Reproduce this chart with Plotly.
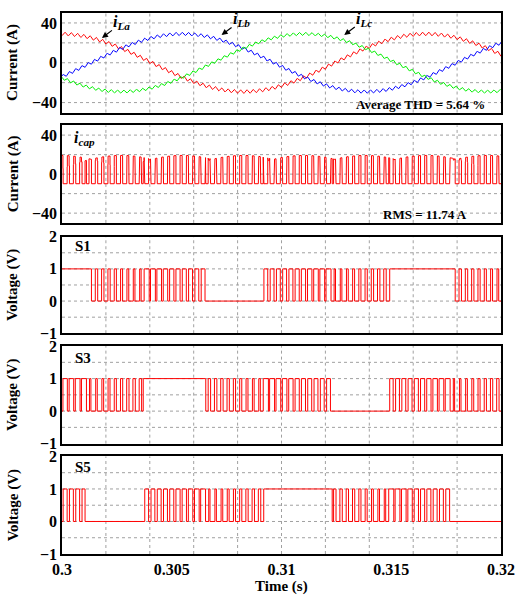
import numpy as np
import plotly.graph_objects as go

# ---------------- data ----------------
T_START, T_END = 0.3, 0.32
F_GRID = 60.0            # Hz, line frequency (period ~16.7 ms)
F_SW = 3500.0            # Hz, switching / ripple frequency
I_AMP = 29.0             # A, load current amplitude
I_RIPPLE = 1.8           # A, current ripple amplitude
T_PEAK_I_A = 0.29993     # s, time of iLa maximum
T_PEAK_V_A = 0.29971     # s, centre of S1 high clamp (minus one period)
M_INDEX = 0.45           # modulation index

# clamp schedule (start, end, phase 0=a/S1 1=b/S3 2=c/S5, level)
CLAMP_START = [0.30000, 0.30105, 0.30370, 0.30655, 0.30919, 0.31231, 0.31493, 0.31782]
CLAMP_END = [0.30105, 0.30370, 0.30655, 0.30919, 0.31231, 0.31493, 0.31782, 0.32000]
CLAMP_PHASE = [0, 2, 1, 0, 2, 1, 0, 2]
CLAMP_LEVEL = [1, 0, 1, 0, 1, 0, 1, 0]

X_TICKS = [0.3, 0.305, 0.31, 0.315, 0.32]
X_TICK_TEXT = ["0.3", "0.305", "0.31", "0.315", "0.32"]
X_GRID = [0.302, 0.304, 0.306, 0.308, 0.310, 0.312, 0.314, 0.316, 0.318]
I_TICKS = [-40, 0, 40]
I_GRID = [-40, -20, 0, 20, 40]
V_TICKS = [-1, 0, 1, 2]
V_GRID = [-0.5, 0, 0.5, 1, 1.5]

PHASE_NAMES = ["i<sub>La</sub>", "i<sub>Lb</sub>", "i<sub>Lc</sub>"]
PHASE_COLORS = ["#ff0000", "#0000ff", "#00ee00"]
LABEL_TIPS_T = [0.30182, 0.30727, 0.31286]
LABEL_TIPS_I = [25, 28, 28]
SWITCH_NAMES = ["S1", "S3", "S5"]
THD_TEXT = "Average THD = 5.64 %"
RMS_TEXT = "RMS = 11.74 A"

# ---------------- waveform construction ----------------
W = 2 * np.pi * F_GRID
TS = 1.0 / F_SW
SH = [0.0, -2 * np.pi / 3, 2 * np.pi / 3]


def i_smooth(k, t):
    return I_AMP * np.cos(W * (np.asarray(t) - T_PEAK_I_A) + SH[k])


def tri(x):
    return 2 * np.abs(2 * (x - np.floor(x + 0.5))) - 1


def vref(k, t):
    return M_INDEX * np.cos(W * (t - T_PEAK_V_A) + SH[k])


def clamp_at(t):
    for cs, ce, p, lv in zip(CLAMP_START, CLAMP_END, CLAMP_PHASE, CLAMP_LEVEL):
        if cs <= t < ce:
            return p, lv
    return CLAMP_PHASE[-1], CLAMP_LEVEL[-1]


NPER = int(round((T_END - T_START) * F_SW))
centers = [T_START + (j + 0.5) * TS for j in range(NPER)]
duty = [[0.0] * NPER for _ in range(3)]
for j, tc in enumerate(centers):
    p, lv = clamp_at(tc)
    off = (1.0 if lv else -1.0) - vref(p, tc)
    for k in range(3):
        duty[k][j] = float(np.clip((vref(k, tc) + off + 1) / 2, 0, 1))


def state(k, tm):
    for cs, ce, p, lv in zip(CLAMP_START, CLAMP_END, CLAMP_PHASE, CLAMP_LEVEL):
        if p == k and cs <= tm < ce:
            return lv
    j = min(int((tm - T_START) * F_SW), NPER - 1)
    return 1 if abs(tm - centers[j]) < duty[k][j] * TS / 2 else 0


def breakpoints(k):
    b = [T_START, T_END]
    for j, tc in enumerate(centers):
        d = duty[k][j]
        if 0 < d < 1:
            b += [tc - d * TS / 2, tc + d * TS / 2]
    b += CLAMP_START + CLAMP_END
    return sorted(set(round(v, 9) for v in b if T_START <= v <= T_END))


sw_x, sw_y = [], []
for k in range(3):
    bp = breakpoints(k)
    xs, ys = [], []
    for a, b in zip(bp[:-1], bp[1:]):
        s = state(k, (a + b) / 2)
        xs += [a, b]
        ys += [s, s]
    sw_x.append(xs)
    sw_y.append(ys)

# capacitor current from switching states and phase currents
allbp = sorted(set(breakpoints(0) + breakpoints(1) + breakpoints(2)))
cx, cy = [], []
for a, b in zip(allbp[:-1], allbp[1:]):
    m = (a + b) / 2
    st = [state(k, m) for k in range(3)]
    for tt in (a, b):
        cx.append(tt)
        cy.append(sum(st[k] * float(i_smooth(k, tt)) for k in range(3)))
cx = np.array(cx)
cy = np.array(cy)
seg = np.diff(cx)[::2]
mean_dc = np.sum(((cy[0::2] + cy[1::2]) / 2) * seg) / np.sum(seg)
icap = cy - mean_dc

t_cur = np.linspace(T_START, T_END, NPER * 16 + 1)
currents = [i_smooth(k, t_cur) + I_RIPPLE * tri(F_SW * t_cur + k / 3.0) for k in range(3)]

# ---------------- figure ----------------
FONT = "Liberation Serif"
fig = go.Figure()

for k in range(3):
    fig.add_trace(go.Scatter(x=t_cur, y=currents[k], mode="lines",
                             line=dict(color=PHASE_COLORS[k], width=1),
                             xaxis="x", yaxis="y", showlegend=False))
fig.add_trace(go.Scatter(x=cx, y=icap, mode="lines", line=dict(color="#ff0000", width=1),
                         xaxis="x2", yaxis="y2", showlegend=False))
for k in range(3):
    fig.add_trace(go.Scatter(x=sw_x[k], y=sw_y[k], mode="lines",
                             line=dict(color="#ff0000", width=1),
                             xaxis="x%d" % (k + 3), yaxis="y%d" % (k + 3), showlegend=False))

W_FIG, H_FIG = 520, 600
ML, MR, MT, MB = 62, 18, 5, 46
PH = H_FIG - MT - MB
PANELS = [(5, 106), (119, 218), (232, 330), (343, 442), (455, 554)]


def dom(top, bot):
    return [(H_FIG - MB - bot) / PH, (H_FIG - MB - top) / PH]


tickfont = dict(family=FONT, size=16, color="black", weight="bold")
layout = dict(width=W_FIG, height=H_FIG, margin=dict(l=ML, r=MR, t=MT, b=MB),
              plot_bgcolor="white", paper_bgcolor="white", showlegend=False)
shapes = []
annotations = []
for i, (top, bot) in enumerate(PANELS):
    n = "" if i == 0 else str(i + 1)
    last = i == len(PANELS) - 1
    layout["xaxis" + n] = dict(domain=[0, 1], range=[T_START, T_END], anchor="y" + n,
                               showgrid=False, zeroline=False, showline=True, mirror=True,
                               linecolor="black", linewidth=1.5, ticks="",
                               tickvals=X_TICKS, ticktext=X_TICK_TEXT,
                               showticklabels=last, tickfont=tickfont,
                               **({} if i == 0 else {"matches": "x"}))
    if i < 2:
        yr, yt, yg = [-50, 50], I_TICKS, I_GRID
    else:
        yr, yt, yg = [-1, 2], V_TICKS, V_GRID
    layout["yaxis" + n] = dict(domain=dom(top, bot), range=yr, anchor="x" + n,
                               showgrid=False, zeroline=False, showline=True, mirror=True,
                               linecolor="black", linewidth=1.5, ticks="",
                               tickvals=yt, tickfont=tickfont)
    xr, yrf = "x" + n, "y" + n
    for gx in X_GRID:
        shapes.append(dict(type="line", xref=xr, yref=yrf + " domain", x0=gx, x1=gx, y0=0, y1=1,
                           line=dict(color="#a0a0a0", width=1, dash="dot"), layer="below"))
    for gy in yg:
        shapes.append(dict(type="line", xref=xr + " domain", yref=yrf, x0=0, x1=1, y0=gy, y1=gy,
                           line=dict(color="#a0a0a0", width=1, dash="dot"), layer="below"))
    annotations.append(dict(text="<b>%s</b>" % ("Current (A)" if i < 2 else "Voltage (V)"),
                            xref="paper", yref=yrf + " domain", x=(13 - ML) / (W_FIG - ML - MR),
                            y=0.5, textangle=-90, showarrow=False, xanchor="center", yanchor="middle",
                            font=dict(family=FONT, size=15, color="black")))

for k in range(3):
    annotations.append(dict(text="<b><i>%s</i></b>" % PHASE_NAMES[k], x=LABEL_TIPS_T[k], y=LABEL_TIPS_I[k],
                            xref="x", yref="y", showarrow=True, ax=20, ay=-15,
                            arrowhead=2, arrowsize=1, arrowwidth=1.2, arrowcolor="black",
                            font=dict(family=FONT, size=16, color="black")))
annotations.append(dict(text="<b>%s</b>" % THD_TEXT, xref="x domain", yref="y domain", x=0.968, y=0.08,
                        xanchor="right", yanchor="middle", showarrow=False,
                        font=dict(family=FONT, size=13, color="black")))
annotations.append(dict(text="<b>%s</b>" % RMS_TEXT, xref="x2 domain", yref="y2 domain", x=0.927, y=0.09,
                        xanchor="right", yanchor="middle", showarrow=False,
                        font=dict(family=FONT, size=13, color="black")))
annotations.append(dict(text="<b><i>i<sub>cap</sub></i></b>", xref="x2 domain", yref="y2 domain",
                        x=0.023, y=0.86, xanchor="left", yanchor="middle", showarrow=False,
                        font=dict(family=FONT, size=16, color="black")))
for k, yy in zip(range(3), [0.90, 0.88, 0.89]):
    n = str(k + 3)
    annotations.append(dict(text="<b>%s</b>" % SWITCH_NAMES[k], xref="x%s domain" % n, yref="y%s domain" % n,
                            x=0.025, y=yy, xanchor="left", yanchor="middle", showarrow=False,
                            font=dict(family=FONT, size=15, color="black")))
annotations.append(dict(text="<b>Time (s)</b>", xref="paper", yref="paper", x=0.5,
                        y=-(587 - (H_FIG - MB)) / PH, xanchor="center", yanchor="middle", showarrow=False,
                        font=dict(family=FONT, size=15, color="black")))

layout["shapes"] = shapes
layout["annotations"] = annotations
fig.update_layout(**layout)
fig.write_html("out.html")
